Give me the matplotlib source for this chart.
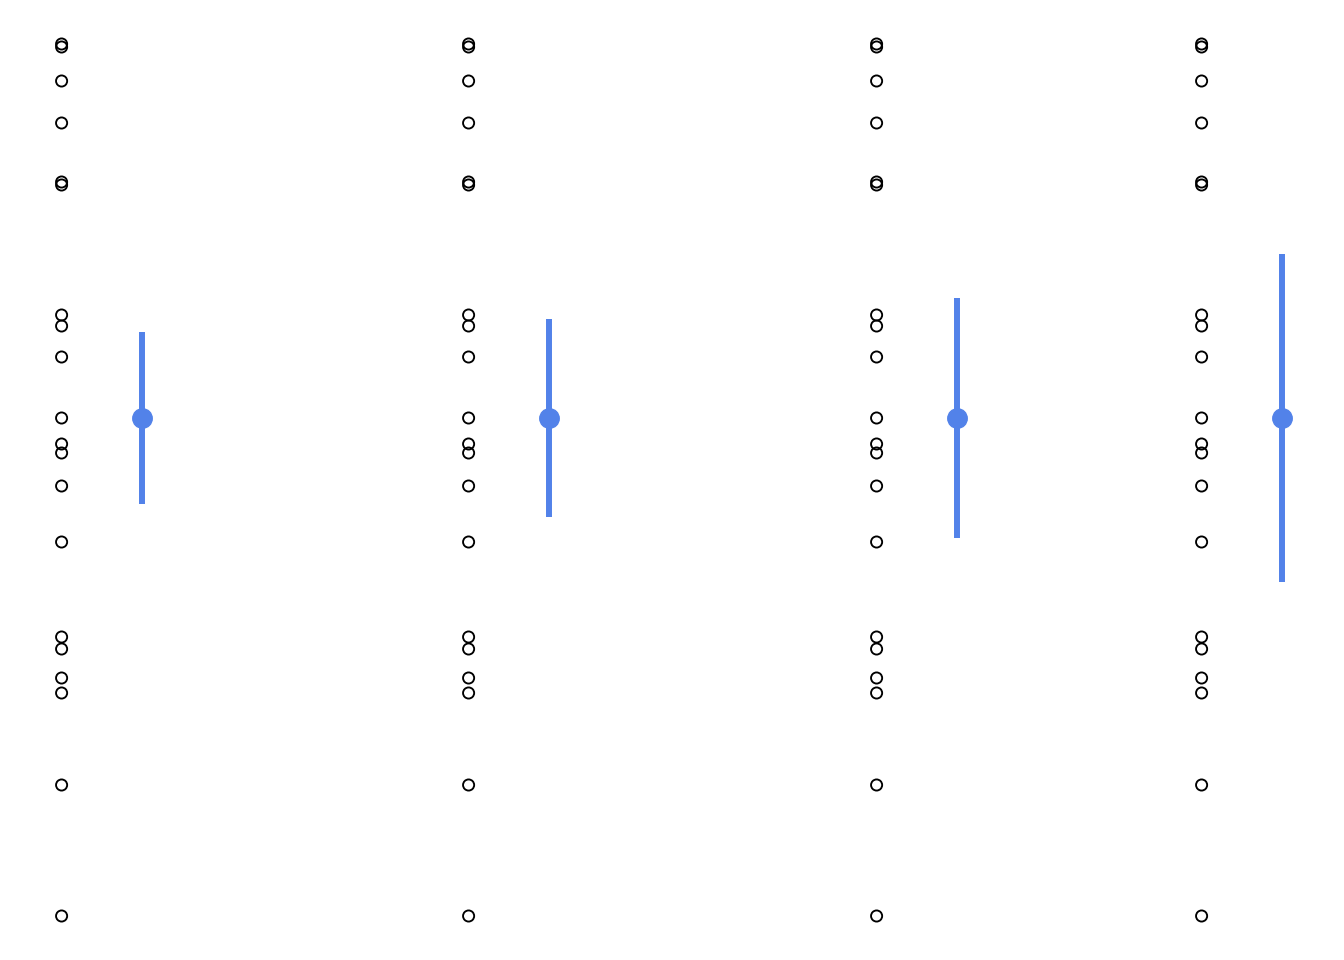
import numpy as np
from matplotlib import pyplot as plt

# observations (same sample shown in every panel)
values = [3.74, 3.71, 3.37, 2.95, 2.36, 2.33, 1.03, 0.92, 0.61, 0.00,
          -0.26, -0.35, -0.68, -1.24, -2.19, -2.31, -2.60, -2.75, -3.67, -4.98]
# interval half-widths (85%, 90%, 95%, 99% CI)
ci_levels = [85, 90, 95, 99]
ci_halfwidth = [0.86, 0.99, 1.20, 1.64]

blue = "#5282E9"

# panel layout: left edge of each axes in pixels, common width
panel_left = [1, 408, 816, 1141]
panel_width = 202
W, H = 1344, 960

fig = plt.figure(figsize=(W / 100, H / 100), dpi=100)

y = np.array(values)
mean = y.mean()

for left, hw in zip(panel_left, ci_halfwidth):
    ax = fig.add_axes([left / W, 0, panel_width / W, 1])
    ax.scatter(np.zeros_like(y), y, s=64, facecolors="none",
               edgecolors="black", linewidths=1.35, zorder=2)
    ax.plot([1, 1], [mean - hw, mean + hw], color=blue, lw=4.3, zorder=3,
            solid_capstyle="butt")
    ax.plot(1, mean, "o", color=blue, ms=14, zorder=4)
    ax.set_xlim(-0.75, 1.75)
    ax.set_ylim(-5.42, 4.18)
    ax.axis("off")

fig.savefig("out.png", dpi=100)
